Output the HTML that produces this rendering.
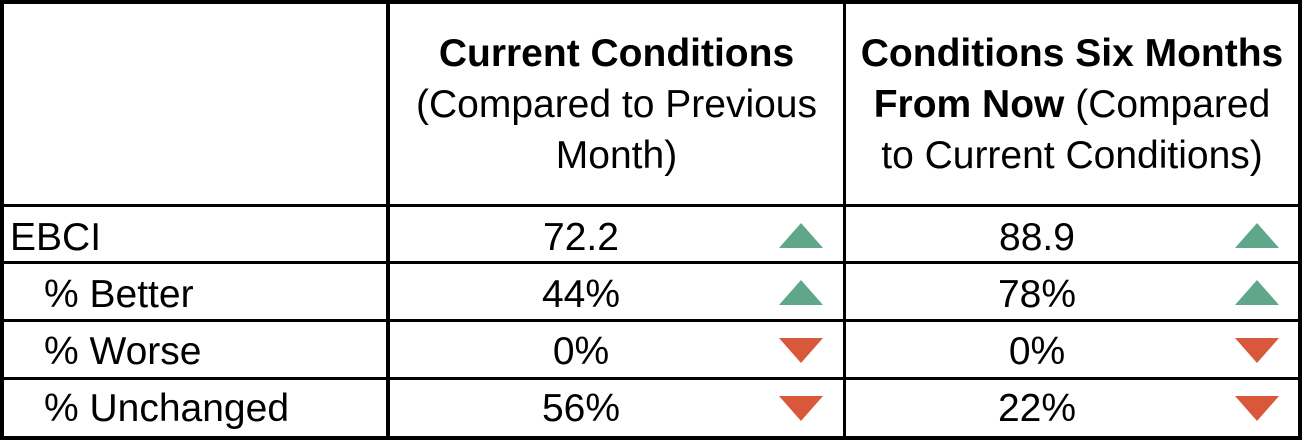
<!DOCTYPE html>
<html><head><meta charset="utf-8"><style>
html,body{margin:0;padding:0;background:#fff;}
body{width:1302px;height:440px;position:relative;overflow:hidden;font-family:"Liberation Sans",Arial,sans-serif;color:#000;}
.l{position:absolute;background:#000;}
.t{position:absolute;font-size:39px;white-space:nowrap;line-height:50px;}
.c{text-align:center;}
.up{position:absolute;width:0;height:0;border-left:22px solid transparent;border-right:22px solid transparent;border-bottom:25px solid #5fa68b;}
.dn{position:absolute;width:0;height:0;border-left:22px solid transparent;border-right:22px solid transparent;border-top:25px solid #d9573a;}
</style></head><body>
<div class="l" style="left:0;top:0;width:1302px;height:4px"></div>
<div class="l" style="left:0;top:436px;width:1302px;height:4px"></div>
<div class="l" style="left:0;top:0;width:4px;height:440px"></div>
<div class="l" style="left:1298px;top:0;width:4px;height:440px"></div>
<div class="l" style="left:386px;top:0;width:4px;height:440px"></div>
<div class="l" style="left:843px;top:0;width:3px;height:440px"></div>
<div class="l" style="left:0;top:204px;width:1302px;height:3px"></div>
<div class="l" style="left:0;top:261px;width:1302px;height:3px"></div>
<div class="l" style="left:0;top:319px;width:1302px;height:3px"></div>
<div class="l" style="left:0;top:377px;width:1302px;height:3px"></div>

<div class="t c" style="left:390px;width:453px;top:29px"><b>Current Conditions</b></div>
<div class="t c" style="left:390px;width:453px;top:80px">(Compared to Previous</div>
<div class="t c" style="left:390px;width:453px;top:131px">Month)</div>
<div class="t c" style="left:846px;width:452px;top:29px"><b>Conditions Six Months</b></div>
<div class="t c" style="left:846px;width:452px;top:80px"><b>From Now</b> (Compared</div>
<div class="t c" style="left:846px;width:452px;top:131px">to Current Conditions)</div>

<div class="t" style="left:10px;top:213px">EBCI</div>
<div class="t" style="left:44px;top:270px">% Better</div>
<div class="t" style="left:44px;top:327px">% Worse</div>
<div class="t" style="left:44px;top:384px">% Unchanged</div>

<div class="t c" style="left:501px;width:160px;top:213px">72.2</div>
<div class="t c" style="left:501px;width:160px;top:270px">44%</div>
<div class="t c" style="left:501px;width:160px;top:327px">0%</div>
<div class="t c" style="left:501px;width:160px;top:384px">56%</div>
<div class="t c" style="left:957px;width:160px;top:213px">88.9</div>
<div class="t c" style="left:957px;width:160px;top:270px">78%</div>
<div class="t c" style="left:957px;width:160px;top:327px">0%</div>
<div class="t c" style="left:957px;width:160px;top:384px">22%</div>

<div class="up" style="left:779px;top:223px"></div>
<div class="up" style="left:779px;top:280px"></div>
<div class="dn" style="left:779px;top:338px"></div>
<div class="dn" style="left:779px;top:396px"></div>
<div class="up" style="left:1235px;top:223px"></div>
<div class="up" style="left:1235px;top:280px"></div>
<div class="dn" style="left:1235px;top:338px"></div>
<div class="dn" style="left:1235px;top:396px"></div>
</body></html>
